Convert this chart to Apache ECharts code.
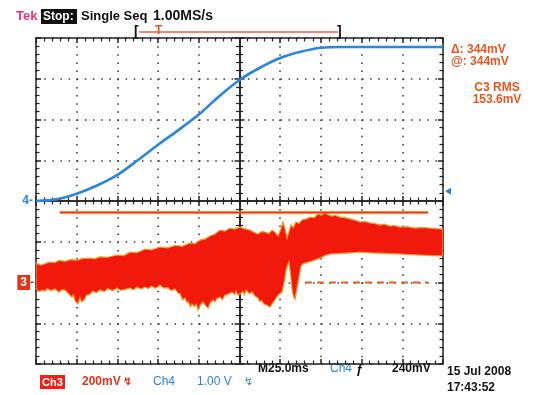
<!DOCTYPE html>
<html><head><meta charset="utf-8">
<script src="https://cdn.jsdelivr.net/npm/echarts@6/dist/echarts.min.js"></script>
<style>html,body{margin:0;padding:0;background:#fff}#c{width:533px;height:395px}</style>
</head><body><div id="c"></div>
<script>
// ---- Data (time in ms, 25 ms/div; Ch4 in V, 1 V/div; Ch3 in mV, 200 mV/div) ----
const timeMs = [0,12.5,25,37.5,50,62.5,75,87.5,100,112.5,125,137.5,150,162.5,175,187.5,200,212.5,225,237.5,250];
const ch4Volts = [0,0.04,0.18,0.38,0.64,1.0,1.38,1.74,2.12,2.57,2.97,3.27,3.51,3.66,3.76,3.78,3.78,3.78,3.78,3.78,3.78];

const ch3UpperT  = [0,3,5.5,8,11.7,14,17.8,21,25.2,29,33.2,36,39.3,44,49.8,54,57.7,62,67,71,76.2,81,85.4,90,94.6,97.5,100.7,104,106.9,110,113,116,119.2,122,125.3,128,131.5,134,136.4,138.5,140.7,143,145,147,148.7,150.3,151.7,153,154.2,155.4,156.6,158,159.7,161.5,163.4,166,168.3,171,173.2,175.5,177.5,179.5,181.8,184,186.7,190,192.8,196,199,202,205.1,208,211.2,214,217.5,220,223.6,228,232.8,237,242,246,250];
const ch3UpperMv = [95,85,92,100,98,108,104,112,110,118,120,116,126,124,135,132,149,146,164,160,174,170,182,178,194,190,208,214,228,238,257,252,267,262,272,264,257,246,238,250,248,240,257,245,228,260,297,262,218,250,282,270,297,290,307,312,321,318,336,330,346,332,326,330,321,318,312,306,297,300,292,290,282,286,277,280,272,274,267,270,267,264,262];

const ch3LowerT  = [0,2,4,5.5,7,9,11.7,14,16,17.8,20,22.1,23,24,25.8,27,28,29.5,31,33.2,35,37,39.3,42,44,47,49.8,52,54,57.7,60,62,64.5,67,69,71,73.5,76.2,78.5,81,83,85.4,87,88.5,90,91.5,93,93.5,95,95.8,97.5,98.5,99.5,101,102.6,104,105.7,107,108.7,110,111,113,114.5,116,118,120.5,122,122.9,124,125.3,127,128,129,131,132.7,134.5,136.4,137.5,138.5,140,142,143.7,145.5,147.4,149,151.1,152.4,153.6,154.5,155.4,156.4,157.3,158.2,159.1,160,161,162,162.8,164,165.2,167,169.5,172,174.5,177.5,180.6,185,189.8,194,199,205,211.3,217,223.6,230,235.9,243,250];
const ch3LowerMv = [-32,-45,-38,-42,-30,-40,-32,-48,-35,-37,-55,-72,-60,-90,-106,-75,-95,-86,-62,-57,-42,-50,-37,-45,-30,-40,-28,-38,-35,-28,-36,-22,-32,-23,-30,-18,-28,-13,-28,-25,-40,-32,-50,-55,-85,-77,-100,-95,-120,-106,-118,-105,-136,-110,-96,-112,-126,-100,-86,-95,-80,-72,-85,-62,-57,-48,-60,-42,-62,-57,-45,-60,-37,-55,-47,-66,-77,-95,-88,-106,-112,-121,-100,-77,-60,-47,0,61,85,100,40,-37,-70,-82,-40,2,50,81,92,95,100,105,112,120,132,140,142,144,146,149,146,144,142,140,137,135,132,130];

const cursorSolidT = [14.7, 240.8], cursorSolidMv = [344, 344];
const cursorDashT  = [165.2, 240.8], cursorDashMv = [0, 0];
const ch4TrigLevelV = 0.24;

const BLUE = '#2a86d8', RED = '#e8301a', ORANGE = '#e8561e';
const FONT = 'Liberation Sans';
const axisLS = {color:'#222', width:1.5};
const dotLS = {color:'#333', width:1.5, type:[1.5,6.65], dashOffset:0};

function borderX(pos, offset){
  return {type:'value', min:0, max:250, interval:25, position:pos, offset:offset||0,
    axisLine:{show:true, onZero:false, lineStyle:axisLS},
    axisTick:{show:true, inside:true, length:5, lineStyle:axisLS},
    minorTick:{show:true, splitNumber:5, length:3.5, lineStyle:{color:'#222',width:1.2}},
    axisLabel:{show:false}, splitLine:{show:false}};
}
function borderY(pos, offset){
  return {type:'value', min:-4, max:4, interval:1, position:pos, offset:offset||0,
    axisLine:{show:true, onZero:false, lineStyle:axisLS},
    axisTick:{show:true, inside:true, length:5, lineStyle:axisLS},
    minorTick:{show:true, splitNumber:5, length:3.5, lineStyle:{color:'#222',width:1.2}},
    axisLabel:{show:false}, splitLine:{show:false}};
}
const x0 = borderX('bottom'); x0.splitLine = {show:true, lineStyle:dotLS};
const y0 = borderY('left'); y0.splitLine = {show:true, lineStyle:dotLS};
y0.axisLabel = {show:true, margin:3, formatter:v => v===0 ? '4-' : '', color:BLUE, fontFamily:FONT, fontWeight:'bold', fontSize:12};

const chart = echarts.init(document.getElementById('c'), null, {renderer:'canvas'});
chart.setOption({
  animation:false,
  backgroundColor:'#fff',
  grid:{left:36, top:38, width:407, height:326},
  xAxis:[x0, borderX('top'), borderX('bottom',-163), borderX('top',-163)],
  yAxis:[
    y0,
    {type:'value', min:-400, max:1200, interval:200, position:'left',
     axisLine:{show:false}, axisTick:{show:false}, splitLine:{show:false},
     axisLabel:{show:true, margin:2, formatter:v => v===0 ? '{b|3}-' : '', color:RED, fontFamily:FONT, fontWeight:'bold', fontSize:12,
       rich:{b:{backgroundColor:RED, color:'#fff', fontFamily:FONT, fontWeight:'bold', fontSize:12, padding:[2,3,1,3]}}}},
    borderY('right'), borderY('left',-203.5), borderY('right',-203.5)
  ],
  series:[
    {type:'custom', xAxisIndex:0, yAxisIndex:1, data:[[0,0]], clip:true, z:2,
     renderItem:function(params, api){
       const pts=[];
       for(let i=0;i<ch3UpperT.length;i++) pts.push(api.coord([ch3UpperT[i], ch3UpperMv[i]]));
       for(let i=ch3LowerT.length-1;i>=0;i--) pts.push(api.coord([ch3LowerT[i], ch3LowerMv[i]]));
       return {type:'polygon', shape:{points:pts}, style:{fill:'#f1180c', stroke:'#f29a2a', lineWidth:1.2}};
     }},
    {type:'line', xAxisIndex:0, yAxisIndex:0, z:3, showSymbol:false, smooth:0.3,
     data: timeMs.map((t,i)=>[t, ch4Volts[i]]),
     lineStyle:{color:BLUE, width:2.6},
     markPoint:{symbol:'triangle', symbolSize:[7,6], symbolRotate:90, symbolOffset:[5,0],
       itemStyle:{color:BLUE}, label:{show:false}, data:[{coord:[250, ch4TrigLevelV]}]}},
    {type:'line', xAxisIndex:0, yAxisIndex:1, z:4, showSymbol:false,
     data: cursorSolidT.map((t,i)=>[t, cursorSolidMv[i]]),
     lineStyle:{color:'#e03a18', width:2, shadowColor:'#f5c040', shadowBlur:2}},
    {type:'line', xAxisIndex:0, yAxisIndex:1, z:4, showSymbol:false,
     data: cursorDashT.map((t,i)=>[t, cursorDashMv[i]]),
     lineStyle:{color:'#e0621e', width:2, type:[7,5]}}
  ],
  graphic:[
    {type:'text', x:16, y:16, style:{text:'Tek', fill:'#e0357e', font:'bold 13px '+FONT, verticalAlign:'middle'}},
    {type:'rect', shape:{x:41, y:9, width:36, height:15}, style:{fill:'#111'}},
    {type:'text', x:43, y:16.5, style:{text:'Stop:', fill:'#fff', font:'bold 12px '+FONT, verticalAlign:'middle'}},
    {type:'text', x:81, y:16, style:{text:'Single Seq', fill:'#111', font:'bold 13px '+FONT, verticalAlign:'middle'}},
    {type:'text', x:153, y:16, style:{text:'1.00MS/s', fill:'#111', font:'bold 14px '+FONT, verticalAlign:'middle'}},
    {type:'line', shape:{x1:139, y1:32, x2:338, y2:32}, style:{stroke:'#e86040', lineWidth:1.5}},
    {type:'text', x:134, y:32, style:{text:'[', fill:'#111', font:'bold 14px '+FONT, verticalAlign:'middle'}},
    {type:'text', x:337, y:32, style:{text:']', fill:'#111', font:'bold 14px '+FONT, verticalAlign:'middle'}},
    {type:'text', x:155, y:31, style:{text:'T', fill:'#e8502a', font:'bold 12px '+FONT, verticalAlign:'middle'}},
    {type:'text', x:451, y:50, style:{text:'Δ: 344mV', fill:ORANGE, font:'bold 12px '+FONT, verticalAlign:'middle'}},
    {type:'text', x:451, y:62, style:{text:'@: 344mV', fill:ORANGE, font:'bold 12px '+FONT, verticalAlign:'middle'}},
    {type:'text', x:497, y:88, style:{text:'C3 RMS', fill:ORANGE, font:'bold 12px '+FONT, align:'center', verticalAlign:'middle'}},
    {type:'text', x:497, y:100, style:{text:'153.6mV', fill:ORANGE, font:'bold 12px '+FONT, align:'center', verticalAlign:'middle'}},
    {type:'rect', shape:{x:40, y:375, width:25, height:14}, style:{fill:'#e8241a'}},
    {type:'text', x:52.5, y:382.5, style:{text:'Ch3', fill:'#fff', font:'bold 11px '+FONT, align:'center', verticalAlign:'middle'}},
    {type:'text', x:82, y:382, style:{text:'200mV', fill:RED, font:'bold 12px '+FONT, verticalAlign:'middle'}},
    {type:'text', x:123, y:382, style:{text:'↯', fill:RED, font:'bold 11px DejaVu Sans', verticalAlign:'middle'}},
    {type:'text', x:153, y:382, style:{text:'Ch4', fill:BLUE, font:'12px '+FONT, verticalAlign:'middle'}},
    {type:'text', x:197, y:382, style:{text:'1.00 V', fill:BLUE, font:'12px '+FONT, verticalAlign:'middle'}},
    {type:'text', x:244, y:382, style:{text:'↯', fill:BLUE, font:'11px DejaVu Sans', verticalAlign:'middle'}},
    {type:'text', x:258, y:369, style:{text:'M25.0ms', fill:'#111', font:'bold 12px '+FONT, verticalAlign:'middle'}},
    {type:'text', x:330, y:369, style:{text:'Ch4', fill:BLUE, font:'12px '+FONT, verticalAlign:'middle'}},
    {type:'text', x:356, y:369, style:{text:'ƒ', fill:'#111', font:'bold 13px '+FONT, verticalAlign:'middle'}},
    {type:'text', x:392, y:369, style:{text:'240mV', fill:'#111', font:'bold 12px '+FONT, verticalAlign:'middle'}},
    {type:'text', x:447, y:372, style:{text:'15 Jul 2008', fill:'#111', font:'bold 12px '+FONT, verticalAlign:'middle'}},
    {type:'text', x:447, y:388, style:{text:'17:43:52', fill:'#111', font:'bold 12px '+FONT, verticalAlign:'middle'}}
  ]
});
</script></body></html>
